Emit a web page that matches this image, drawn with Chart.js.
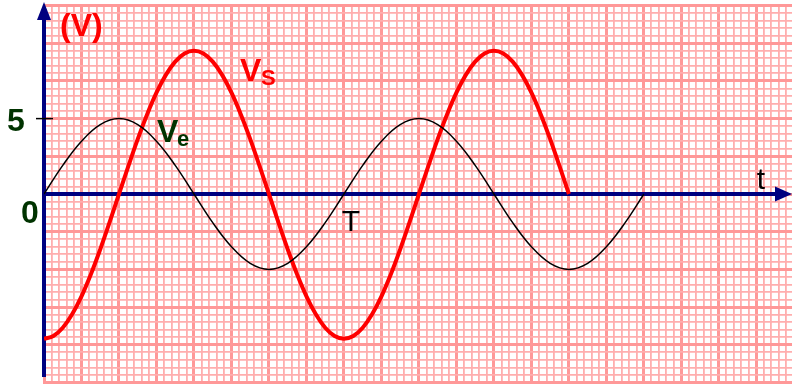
<!DOCTYPE html>
<html>
<head>
<meta charset="utf-8">
<script src="https://cdn.jsdelivr.net/npm/chart.js@4/dist/chart.umd.min.js"></script>
<style>
html,body{margin:0;padding:0;background:#fff;}
#wrap{width:792px;height:385px;position:relative;}
</style>
</head>
<body>
<div id="wrap"><canvas id="c" width="792" height="385"></canvas></div>
<script>
// time axis (grid units; one period T = 8 units)
const tVe = [0,0.5,1,1.5,2,2.5,3,3.5,4,4.5,5,5.5,6,6.5,7,7.5,8,8.5,9,9.5,10,10.5,11,11.5,12,12.5,13,13.5,14,14.5,15,15.5,16];
// input voltage Ve (V)
const ve = [0,1.9,3.5,4.6,5,4.6,3.5,1.9,0,-1.9,-3.5,-4.6,-5,-4.6,-3.5,-1.9,0,1.9,3.5,4.6,5,4.6,3.5,1.9,0,-1.9,-3.5,-4.6,-5,-4.6,-3.5,-1.9,0];
const tVs = [0,0.25,0.5,0.75,1,1.25,1.5,1.75,2,2.25,2.5,2.75,3,3.25,3.5,3.75,4,4.25,4.5,4.75,5,5.25,5.5,5.75,6,6.25,6.5,6.75,7,7.25,7.5,7.75,8,8.25,8.5,8.75,9,9.25,9.5,9.75,10,10.25,10.5,10.75,11,11.25,11.5,11.75,12,12.25,12.5,12.75,13,13.25,13.5,13.75,14];
// output voltage Vs (V)
const vs = [-9.6,-9.42,-8.87,-7.98,-6.79,-5.33,-3.67,-1.87,0,1.85,3.64,5.28,6.72,7.9,8.78,9.32,9.5,9.32,8.78,7.9,6.72,5.28,3.64,1.85,0,-1.87,-3.67,-5.33,-6.79,-7.98,-8.87,-9.42,-9.6,-9.42,-8.87,-7.98,-6.79,-5.33,-3.67,-1.87,0,1.85,3.64,5.28,6.72,7.9,8.78,9.32,9.5,9.32,8.78,7.9,6.72,5.28,3.64,1.85,0];
const yTickLabels = [{v:5,text:'5'},{v:0,text:'0'}];
const periodMark = {t:8,text:'T'};

const isMajor = (v, step) => Math.abs(v/step - Math.round(v/step)) < 1e-6;
const FONT = '"Liberation Sans", Arial, sans-serif';

const decorPlugin = {
  id:'decor',
  beforeDatasetsDraw(chart){
    const {ctx, scales:{x,y}} = chart;
    const x0 = x.getPixelForValue(0), y0 = y.getPixelForValue(0);
    ctx.save();
    ctx.strokeStyle = '#000080'; ctx.fillStyle = '#000080'; ctx.lineWidth = 4;
    ctx.beginPath(); ctx.moveTo(x0, 377); ctx.lineTo(x0, 16); ctx.stroke();
    ctx.beginPath(); ctx.moveTo(x0, 2); ctx.lineTo(x0-7, 20); ctx.lineTo(x0+7, 20); ctx.closePath(); ctx.fill();
    ctx.beginPath(); ctx.moveTo(x0, y0); ctx.lineTo(778, y0); ctx.stroke();
    ctx.beginPath(); ctx.moveTo(792, y0); ctx.lineTo(775, y0-7.5); ctx.lineTo(775, y0+7.5); ctx.closePath(); ctx.fill();
    const y5 = y.getPixelForValue(5);
    ctx.strokeStyle = '#000'; ctx.lineWidth = 1.5;
    ctx.beginPath(); ctx.moveTo(36, y5); ctx.lineTo(53, y5); ctx.stroke();
    ctx.restore();
  },
  afterDatasetsDraw(chart){
    const {ctx, scales:{x,y}} = chart;
    ctx.save();
    ctx.textBaseline = 'alphabetic';
    ctx.textAlign = 'center';
    ctx.font = 'bold 32px ' + FONT;
    ctx.fillStyle = '#003300';
    yTickLabels.forEach(l => {
      const py = y.getPixelForValue(l.v);
      if (l.v === 0) ctx.fillText(l.text, 30, py + 29);
      else ctx.fillText(l.text, 16, py + 12);
    });
    ctx.textAlign = 'left';
    ctx.fillStyle = '#ff0000';
    ctx.font = 'bold 32px ' + FONT;
    ctx.fillText('(V)', 60, 36);
    ctx.fillText('V', 240, 81);
    ctx.font = 'bold 22px ' + FONT;
    ctx.fillText('S', 261, 85);
    ctx.fillStyle = '#003300';
    ctx.font = 'bold 32px ' + FONT;
    ctx.fillText('V', 157, 142);
    ctx.font = 'bold 22px ' + FONT;
    ctx.fillText('e', 177, 146);
    ctx.fillStyle = '#000';
    ctx.font = '30px ' + FONT;
    ctx.textAlign = 'center';
    ctx.fillText('t', 761, 189);
    ctx.fillText(periodMark.text, x.getPixelForValue(periodMark.t) + 7, 231);
    ctx.restore();
  }
};

new Chart(document.getElementById('c'), {
  type:'line',
  data:{
    datasets:[
      {label:'Ve', data:tVe.map((t,i)=>({x:t,y:ve[i]})), borderColor:'#000', borderWidth:1.5, pointRadius:0, tension:0.4, fill:false},
      {label:'Vs', data:tVs.map((t,i)=>({x:t,y:vs[i]})), borderColor:'#ff0000', borderWidth:4, pointRadius:0, tension:0.4, fill:false}
    ]
  },
  options:{
    responsive:false, animation:false,
    layout:{padding:{left:44,top:4,right:0,bottom:1}},
    plugins:{legend:{display:false}, tooltip:{enabled:false}},
    scales:{
      x:{type:'linear', min:0, max:19.95,
        ticks:{display:false, stepSize:0.2, maxTicksLimit:1000, includeBounds:false},
        border:{display:false},
        grid:{drawTicks:false,
          color:c=>isMajor(c.tick.value,1)?'#ff9898':'#ffaeae',
          lineWidth:c=>isMajor(c.tick.value,1)?3:1.8}},
      y:{type:'linear', min:-12.6, max:12.6,
        ticks:{display:false, stepSize:0.5, maxTicksLimit:1000, includeBounds:false},
        border:{display:false},
        grid:{drawTicks:false,
          color:c=>isMajor(c.tick.value,2.5)?'#ff9898':'#ffaeae',
          lineWidth:c=>isMajor(c.tick.value,2.5)?3:1.8}}
    }
  },
  plugins:[decorPlugin]
});
</script>
</body>
</html>
